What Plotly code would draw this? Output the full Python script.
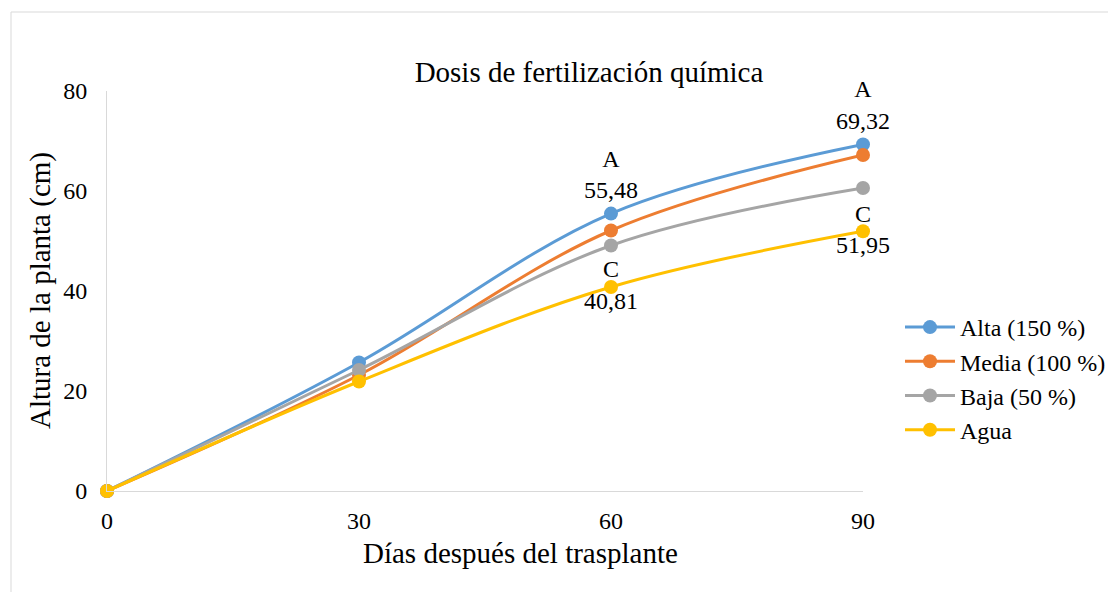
import plotly.graph_objs as go

dias = [0, 30, 60, 90]
alta = [0, 25.7, 55.48, 69.32]
media = [0, 23.2, 52.1, 67.2]
baja = [0, 24.2, 49.1, 60.6]
agua = [0, 21.9, 40.81, 51.95]

series_names = ['Alta (150 %)', 'Media (100 %)', 'Baja (50 %)', 'Agua']
series_colors = ['#5B9BD5', '#ED7D31', '#A5A5A5', '#FFC000']
labels_alta = ['', '', 'A<br>55,48', 'A<br>69,32']
labels_agua = ['', '', 'C<br>40,81', 'C<br>51,95']

FONT = 'Liberation Serif, Times New Roman, serif'
# page body has an 8px margin, so the figure is drawn 8px smaller and shifted
W, H = 1110, 584
PL, PT, PW, PH = 99, 83, 756, 400


def make_trace(y, name, color, text=None, textpos='top center'):
    return go.Scatter(
        x=dias,
        y=y,
        name=name,
        legendgroup=name,
        mode='lines+markers+text' if text else 'lines+markers',
        text=text,
        textposition=textpos,
        textfont=dict(family=FONT, size=24, color='#000000'),
        line=dict(color=color, width=3, shape='spline', smoothing=1.0),
        marker=dict(color=color, size=14),
        cliponaxis=False,
        hoverinfo='x+y+name',
    )


traces = [
    make_trace(alta, series_names[0], series_colors[0], labels_alta, 'top center'),
    make_trace(media, series_names[1], series_colors[1]),
    make_trace(baja, series_names[2], series_colors[2]),
    make_trace(agua, series_names[3], series_colors[3], labels_agua, 'middle center'),
]

fig = go.Figure(data=traces)

fig.update_layout(
    width=W,
    height=H,
    paper_bgcolor='white',
    plot_bgcolor='white',
    font=dict(family=FONT, size=24, color='#000000'),
    margin=dict(l=PL, r=W - PL - PW, t=PT, b=H - PT - PH),
    title=dict(
        text='Dosis de fertilización química',
        font=dict(family=FONT, size=29, color='#000000'),
        x=(589 - 8) / W, xanchor='center', xref='container',
        y=1 - (72 - 8) / H, yanchor='middle', yref='container',
    ),
    xaxis=dict(
        range=[0, 90],
        tickvals=dias,
        showgrid=False,
        zeroline=False,
        showline=True,
        linecolor='#D9D9D9',
        linewidth=1,
        ticks='',
        ticklabelstandoff=8,
        tickfont=dict(family=FONT, size=24),
    ),
    yaxis=dict(
        range=[0, 80],
        dtick=20,
        showgrid=False,
        zeroline=False,
        showline=True,
        linecolor='#D9D9D9',
        linewidth=1,
        ticks='',
        ticklabelstandoff=14,
        tickfont=dict(family=FONT, size=24),
    ),
    legend=dict(
        x=892 / W, xref='container', xanchor='left',
        y=1 - 297 / H, yref='container', yanchor='top',
        font=dict(family=FONT, size=24),
        tracegroupgap=0,
        itemwidth=50,
        bgcolor='rgba(0,0,0,0)',
    ),
    showlegend=True,
    annotations=[
        dict(
            text='Días después del trasplante',
            x=(520 - 107) / PW, xref='x domain', xanchor='center',
            y=-(553 - 491) / PH, yref='y domain', yanchor='middle',
            showarrow=False,
            font=dict(family=FONT, size=29, color='#000000'),
        ),
        dict(
            text='Altura de la planta (cm)',
            x=(40 - 107) / PW, xref='x domain', xanchor='center',
            y=0.5, yref='y domain', yanchor='middle',
            textangle=-90,
            showarrow=False,
            font=dict(family=FONT, size=29, color='#000000'),
        ),
    ],
    shapes=[
        dict(type='line', xref='paper', yref='paper',
             x0=(3 - PL) / PW, x1=(3 - PL) / PW,
             y0=(PT + PH - 4) / PH, y1=(PT + PH - H) / PH,
             line=dict(color='#D9D9D9', width=1)),
        dict(type='line', xref='paper', yref='paper',
             x0=(3 - PL) / PW, x1=(1100 - PL) / PW,
             y0=(PT + PH - 4) / PH, y1=(PT + PH - 4) / PH,
             line=dict(color='#D9D9D9', width=1)),
    ],
)

fig.write_html('out.html')
